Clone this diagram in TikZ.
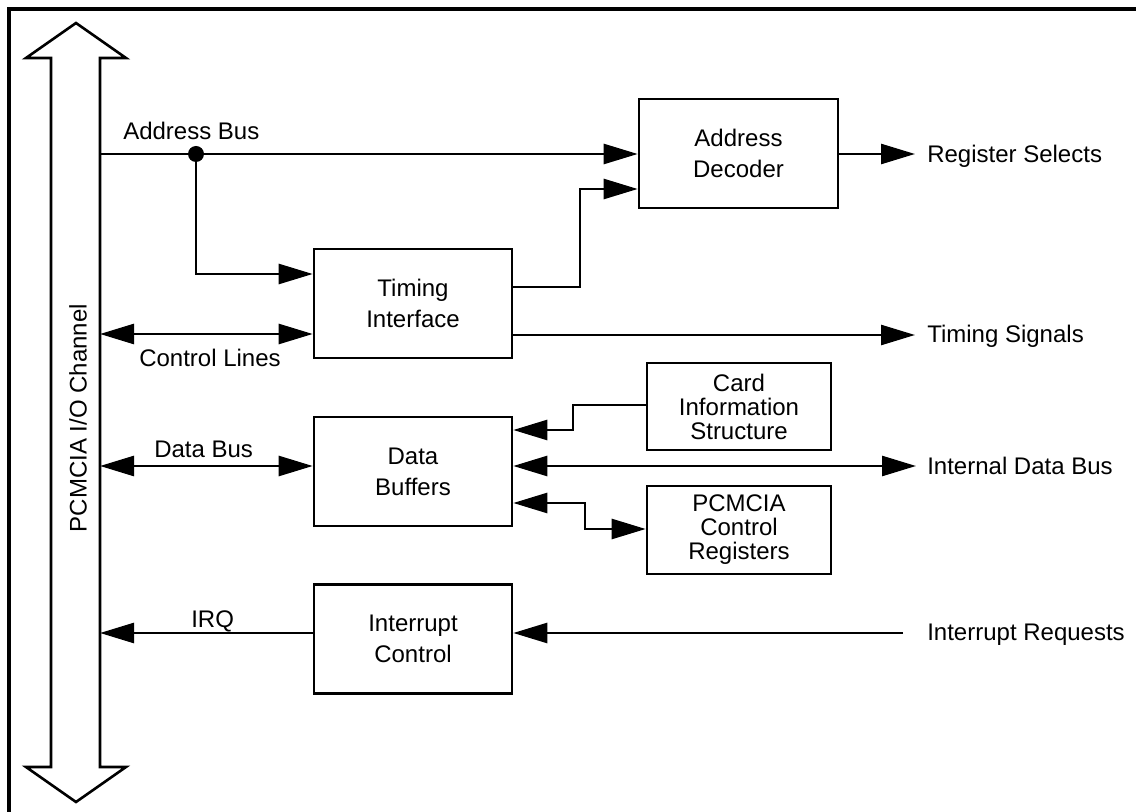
\documentclass[tikz,border=0pt]{standalone}
\usepackage{fontspec}
\setmainfont{Liberation Sans}
\usetikzlibrary{arrows.meta}
\begin{document}
\begin{tikzpicture}[x=0.5pt,y=-0.5pt,
  line width=1.3pt, line join=miter,
  >={Triangle[length=17pt,width=10pt]},
  box/.style={draw, line width=1.3pt, inner sep=0pt, align=center,
    font=\fontsize{12}{15.5}\selectfont},
  smallbox/.style={box, font=\fontsize{12}{12}\selectfont},
  lbl/.style={inner sep=0pt, font=\fontsize{12}{14}\selectfont},
  bigbox/.style={box, minimum width=99pt, minimum height=54.5pt},
  infobox/.style={smallbox, minimum width=92pt, minimum height=43.5pt}]
\useasboundingbox (0,0) rectangle (1136,812);
% outer frame (top and left edges)
\draw[line width=1.7pt] (9,812) -- (9,9) -- (1136,9);
% PCMCIA channel double arrow
\draw (76,23) -- (126,58) -- (100,58) -- (100,767) -- (126,767) -- (76,802)
  -- (26,767) -- (51,767) -- (51,58) -- (26,58) -- cycle;
\node[lbl, rotate=90] (chan) at (78,418) {PCMCIA I/O Channel};
% boxes
\node[bigbox, minimum width=99.5pt] (dec) at (738.5,153.5) {Address\\Decoder};
\node[bigbox] (tim) at (413,303.5) {Timing\\Interface};
\node[bigbox] (buf) at (413,471.5) {Data\\Buffers};
\node[infobox] (cis) at (739,406.5) {Card\\Information\\Structure};
\node[infobox, minimum height=44pt] (pcr) at (739,530) {PCMCIA\\Control\\Registers};
\node[bigbox] (irq) at (413,639) {Interrupt\\Control};
% coordinates
\coordinate (sA) at (100,154);
\coordinate (sC) at (100,334);
\coordinate (sD) at (100,466);
\coordinate (sI) at (100,633);
\coordinate (y274) at (0,274);
\coordinate (y287) at (0,287);
\coordinate (y189) at (0,189);
\coordinate (y335) at (0,335);
\coordinate (y405) at (0,405);
\coordinate (y430) at (0,430);
\coordinate (y503) at (0,503);
\coordinate (y529) at (0,529);
\coordinate (rRS) at (915,154);
\coordinate (rTS) at (915,335);
\coordinate (rID) at (916,466);
\coordinate (rIR) at (903,633);
\node[circle, fill, inner sep=0pt, minimum size=8pt] (dot) at (196,154) {};
% labels
\node[lbl, anchor=base west] (lAB) at (122,140) {Address Bus};
\node[lbl, anchor=base west] (lCL) at (138,367) {Control Lines};
\node[lbl, anchor=base west] (lDB) at (153,458) {Data Bus};
\node[lbl, anchor=base west] (lIRQ) at (190,627) {IRQ};
\node[lbl, anchor=base west] (lRS) at (926,162.5) {Register Selects};
\node[lbl, anchor=base west] (lTS) at (926,343) {Timing Signals};
\node[lbl, anchor=base west] (lID) at (926,474.5) {Internal Data Bus};
\node[lbl, anchor=base west] (lIR) at (926,640) {Interrupt Requests};
% connectors
\draw[->] (sA) -- (dec.west |- sA);
\draw[->] (dot.center) |- (tim.west |- y274);
\draw[->] (tim.east |- y287) -- (580,287) -- (580,189) -- (dec.west |- y189);
\draw[<->] (sC) -- (tim.west |- sC);
\draw[->] (tim.east |- y335) -- (rTS);
\draw[->] (dec.east |- sA) -- (rRS);
\draw[<->] (sD) -- (buf.west |- sD);
\draw[->] (cis.west |- y405) -- (573,405) -- (573,430) -- (buf.east |- y430);
\draw[<->] (buf.east |- sD) -- (rID);
\draw[<->] (buf.east |- y503) -- (585,503) -- (585,529) -- (pcr.west |- y529);
\draw[->] (rIR) -- (irq.east |- sI);
\draw[->] (irq.west |- sI) -- (sI);
\end{tikzpicture}
\end{document}
